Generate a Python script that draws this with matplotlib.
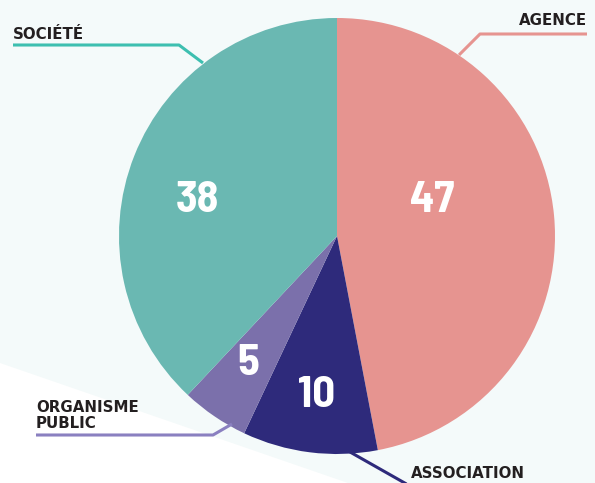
import matplotlib.pyplot as plt
from matplotlib.patches import Polygon

# data
categories = ['AGENCE', 'ASSOCIATION', 'ORGANISME\nPUBLIC', 'SOCIÉTÉ']
values = [47, 10, 5, 38]
colors = ['#e69490', '#2e2a7b', '#7b70ab', '#6ab8b2']
line_colors = ['#e69490', '#2e2a7b', '#8a80c0', '#3dbfb0']

W, H = 595, 483
cx, cy, r = 337, H - 236, 218

fig = plt.figure(figsize=(W / 100, H / 100), dpi=100, facecolor='#f4fafa')
ax = fig.add_axes([0, 0, 1, 1])
ax.set_facecolor('#f4fafa')

# white diagonal band at bottom left
ax.add_patch(Polygon([(0, H - 363), (348, 0), (0, 0)], closed=True,
                     facecolor='white', edgecolor='none', zorder=0))

wedges, _ = ax.pie(values, colors=colors, startangle=90, counterclock=False,
                   center=(cx, cy), radius=r, frame=True,
                   wedgeprops=dict(linewidth=0))

# value labels inside the wedges (baseline offsets relative to radius)
value_pos = [(0.438, 0.110), (-0.092, -0.784), (-0.408, -0.638), (-0.638, 0.110)]
for v, (dx, dy) in zip(values, value_pos):
    ax.text(cx + dx * r, cy + dy * r, str(v), color='white', fontsize=32,
            fontweight='bold',
            family=['Barlow Semi Condensed', 'Barlow Condensed', 'Roboto'],
            ha='center', va='baseline', zorder=5)

# leader lines and category labels (pixel coords, y from top)
leaders = [
    [(459, 55), (480, 34), (587, 34)],
    [(350, 452), (410, 486)],
    [(232, 424), (213, 435), (36, 435)],
    [(203, 63), (179, 45), (13, 45)],
]
label_pos = [(587, 25, 'right'), (411, 478, 'left'),
             (36, 428, 'left'), (13, 39, 'left')]
for cat, pts, lc, (tx, ty, ha) in zip(categories, leaders, line_colors, label_pos):
    xs = [p[0] for p in pts]
    ys = [H - p[1] for p in pts]
    ax.plot(xs, ys, color=lc, lw=2.2, solid_capstyle='butt', zorder=3)
    ax.text(tx, H - ty, cat, color='#231f20', fontsize=10.8, fontweight='bold',
            family='DejaVu Sans', ha=ha, va='baseline', linespacing=1.1,
            zorder=6)

ax.set_xlim(0, W)
ax.set_ylim(0, H)
ax.set_aspect('equal')
ax.axis('off')

fig.savefig('out.png', dpi=100, facecolor=fig.get_facecolor())
